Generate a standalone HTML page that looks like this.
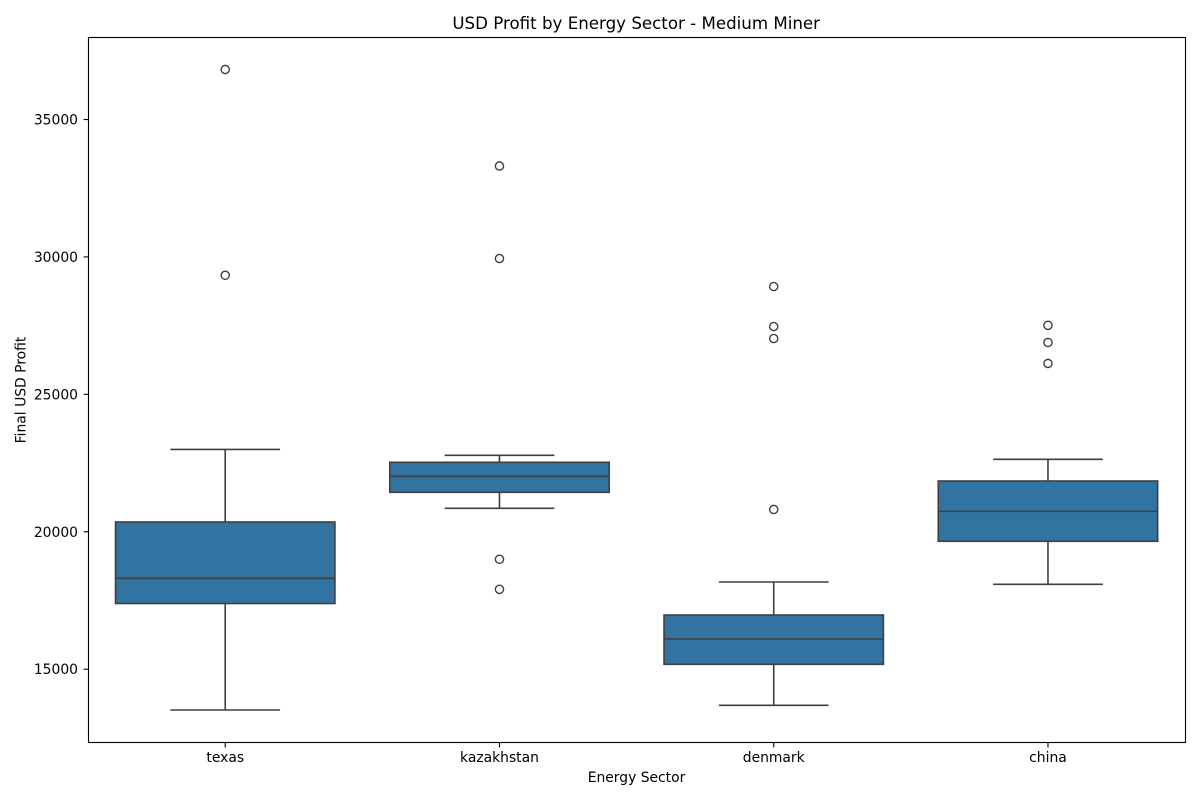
<!DOCTYPE html>
<html lang="en">
<head>
<meta charset="utf-8">
<title>USD Profit by Energy Sector - Medium Miner</title>
<style>
html,body{margin:0;padding:0;background:#fff;width:1200px;height:800px;overflow:hidden}
svg{display:block}
text{font-family:"DejaVu Sans","Liberation Sans",sans-serif;fill:#000}
</style>
</head>
<body>
<svg id="chart" xmlns="http://www.w3.org/2000/svg" width="1200" height="800" viewBox="0 0 1200 800">
  <rect x="0" y="0" width="1200" height="800" fill="#ffffff"/>
  <g id="marks"></g>
  <rect x="88.5" y="37.5" width="1097" height="705" fill="none" stroke="#000" stroke-width="1.11"/>
  <g id="x-axis"></g>
  <g id="y-axis"></g>
  <text x="636.2" y="29" font-size="16.67" text-anchor="middle">USD Profit by Energy Sector - Medium Miner</text>
  <text x="636.5" y="782" font-size="13.89" text-anchor="middle">Energy Sector</text>
  <text transform="translate(25.5,390) rotate(-90)" font-size="13.89" text-anchor="middle">Final USD Profit</text>
</svg>
<script>
const categories = ["texas", "kazakhstan", "denmark", "china"];
const whiskerLow = [13516, 20854, 13687, 18089];
const q1 = [17390, 21436, 15178, 19654];
const median = [18307, 22018, 16099, 20745];
const q3 = [20356, 22528, 16972, 21847];
const whiskerHigh = [22994, 22783, 18173, 22637];
const outliers = [
  [36820, 29332],
  [33309, 29943, 18999, 17907],
  [28924, 27469, 27032, 20811],
  [27512, 26887, 26123]
];
const yTicks = [15000, 20000, 25000, 30000, 35000];

const NS = "http://www.w3.org/2000/svg";
function xScale(i) { return 88.1 + (i + 0.5) * 274.25; }
function yScale(v) { return 669.2 - (v - 15000) * 0.027485; }
const boxWidth = 0.8 * 274.25;
const capWidth = 0.4 * 274.25;
const stroke = "#3f3f3f";
const lineW = 1.6;

function make(tag, attrs, parent) {
  const el = document.createElementNS(NS, tag);
  for (const k in attrs) el.setAttribute(k, attrs[k]);
  parent.appendChild(el);
  return el;
}

const marks = document.getElementById("marks");
const xAxis = document.getElementById("x-axis");
const yAxis = document.getElementById("y-axis");

categories.forEach(function (cat, i) {
  const cx = xScale(i);
  const g = make("g", {}, marks);
  
  

  const lowerWhisker = make("line", {x1: cx, x2: cx, y1: yScale(q1[i]), y2: yScale(whiskerLow[i]), stroke: stroke, "stroke-width": lineW}, g);
  
  

  const upperWhisker = make("line", {x1: cx, x2: cx, y1: yScale(q3[i]), y2: yScale(whiskerHigh[i]), stroke: stroke, "stroke-width": lineW}, g);
  
  

  const lowerCap = make("line", {x1: cx - capWidth / 2, x2: cx + capWidth / 2, y1: yScale(whiskerLow[i]), y2: yScale(whiskerLow[i]), stroke: stroke, "stroke-width": lineW}, g);
  
  

  const upperCap = make("line", {x1: cx - capWidth / 2, x2: cx + capWidth / 2, y1: yScale(whiskerHigh[i]), y2: yScale(whiskerHigh[i]), stroke: stroke, "stroke-width": lineW}, g);
  
  

  const box = make("rect", {x: cx - boxWidth / 2, y: yScale(q3[i]), width: boxWidth, height: yScale(q1[i]) - yScale(q3[i]), fill: "#3274a1", stroke: stroke, "stroke-width": lineW}, g);
  
  

  const med = make("line", {x1: cx - boxWidth / 2, x2: cx + boxWidth / 2, y1: yScale(median[i]), y2: yScale(median[i]), stroke: stroke, "stroke-width": lineW}, g);
  
  

  outliers[i].forEach(function (v) {
    const p = make("circle", {cx: cx, cy: yScale(v), r: 4.1, fill: "none", stroke: stroke, "stroke-width": 1.4}, g);
    
    
  });

  const tick = make("line", {x1: cx, x2: cx, y1: 742.5, y2: 747.4, stroke: "#000", "stroke-width": 1.11}, xAxis);
  
  

  const label = make("text", {x: cx, y: 762, "font-size": 13.89, "text-anchor": "middle"}, xAxis);
  label.textContent = cat;
  
  
});

yTicks.forEach(function (v) {
  const y = yScale(v);
  const tick = make("line", {x1: 83.6, x2: 88.5, y1: y, y2: y, stroke: "#000", "stroke-width": 1.11}, yAxis);
  
  

  const label = make("text", {x: 78, y: y + 5, "font-size": 13.89, "text-anchor": "end"}, yAxis);
  label.textContent = String(v);
  
  
});
</script>
</body>
</html>
